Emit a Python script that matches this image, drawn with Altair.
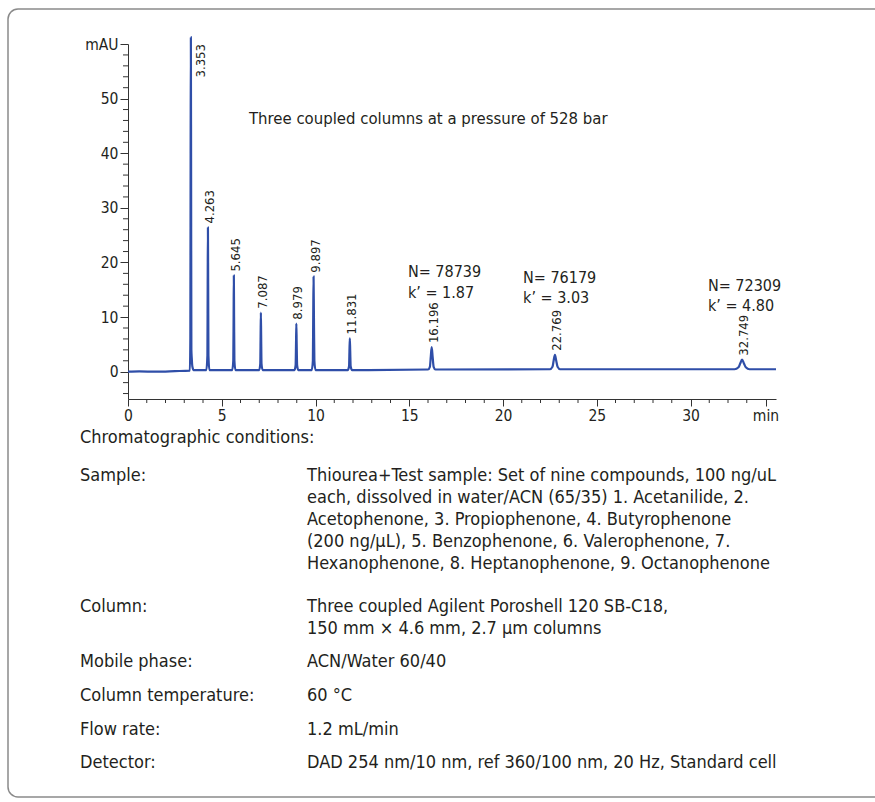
import altair as alt
import pandas as pd

# ---------------- data ----------------
trace_time = [0.0, 0.6, 1.5, 2.5, 3.30, 3.325, 3.34, 3.353, 3.366, 3.38, 3.40, 3.43, 3.50,
              4.18, 4.235, 4.25, 4.263, 4.276, 4.29, 4.34,
              5.56, 5.615, 5.632, 5.645, 5.658, 5.675, 5.73,
              7.00, 7.055, 7.072, 7.087, 7.102, 7.12, 7.18,
              8.88, 8.94, 8.962, 8.979, 8.996, 9.02, 9.08,
              9.80, 9.86, 9.879, 9.897, 9.915, 9.94, 10.0,
              11.72, 11.79, 11.81, 11.831, 11.852, 11.875, 11.95,
              16.0, 16.10, 16.15, 16.196, 16.245, 16.30, 16.40,
              22.5, 22.64, 22.70, 22.769, 22.84, 22.91, 23.05,
              32.35, 32.56, 32.65, 32.749, 32.85, 32.95, 33.15, 34.56]
trace_signal = [0.0, 0.05, 0.0, 0.1, 0.2, 6.0, 40.0, 61.2, 35.0, 4.0, 2.5, 1.0, 0.3,
                0.3, 3.0, 16.0, 26.4, 16.0, 3.0, 0.3,
                0.3, 2.0, 10.0, 17.6, 10.0, 2.0, 0.3,
                0.3, 1.5, 6.5, 10.8, 6.5, 1.5, 0.3,
                0.3, 1.2, 5.2, 8.8, 5.2, 1.2, 0.3,
                0.3, 2.0, 10.5, 17.4, 10.5, 2.0, 0.3,
                0.3, 1.0, 3.7, 6.1, 3.7, 1.0, 0.3,
                0.4, 0.9, 2.8, 4.5, 2.8, 0.9, 0.4,
                0.45, 0.9, 2.0, 3.1, 2.0, 0.9, 0.45,
                0.45, 0.8, 1.5, 2.2, 1.5, 0.8, 0.45, 0.45]

peak_rt = [4.263, 5.645, 7.087, 8.979, 9.897, 11.831, 16.196, 22.769, 32.749]
peak_height = [26.4, 17.6, 10.8, 8.8, 17.4, 6.1, 4.5, 3.1, 2.2]
peak_label = ["4.263", "5.645", "7.087", "8.979", "9.897", "11.831", "16.196", "22.769", "32.749"]

first_peak_rt = [3.353]
first_peak_label = ["3.353"]

plate_lines = ["N= 78739", "k\u2019 = 1.87", "N= 76179", "k\u2019 = 3.03", "N= 72309", "k\u2019 = 4.80"]
plate_time = [14.93, 14.93, 21.07, 21.07, 30.93, 30.93]
plate_level = [18.3, 14.5, 17.2, 13.5, 15.6, 12.1]

headline = ["Three coupled columns at a pressure of 528 bar"]
headline_time = [6.45]
headline_level = [46.2]

x_major = [0, 5, 10, 15, 20, 25, 30, 34]
x_minor = [v for v in range(1, 35) if v % 5 != 0 and v != 34]
y_major = [0, 10, 20, 30, 40, 50, 60]
y_minor = [v for v in range(-4, 60, 2) if v % 10 != 0]

cond_title = "Chromatographic conditions:"
cond_labels = ["Sample:", "Column:", "Mobile phase:", "Column temperature:", "Flow rate:", "Detector:"]
cond_values = [
    ["Thiourea+Test sample: Set of nine compounds, 100 ng/uL",
     "each, dissolved in water/ACN (65/35) 1. Acetanilide, 2.",
     "Acetophenone, 3. Propiophenone, 4. Butyrophenone",
     "(200 ng/\u00b5L), 5. Benzophenone, 6. Valerophenone, 7.",
     "Hexanophenone, 8. Heptanophenone, 9. Octanophenone"],
    ["Three coupled Agilent Poroshell 120 SB-C18,",
     "150 mm \u00d7 4.6 mm, 2.7 \u00b5m columns"],
    ["ACN/Water 60/40"],
    ["60 \u00b0C"],
    ["1.2 mL/min"],
    ["DAD 254 nm/10 nm, ref 360/100 nm, 20 Hz, Standard cell"],
]

# ---------------- layout / style ----------------
W, H = 648, 355
PL, PT = 128, 44
FONT = "DejaVu Sans Condensed, Liberation Sans Narrow, sans-serif"
INK = "#231f20"
LINE = "#2f4ea8"
AX = "#333333"

xs = alt.Scale(domain=[0, 34.56], nice=False, zero=False)
ys = alt.Scale(domain=[-5, 60], nice=False, zero=False)

x_axis = alt.Axis(
    values=x_major, labelExpr="datum.value == 34 ? 'min' : datum.label",
    tickSize=7, title=None, grid=False)
y_axis = alt.Axis(
    values=y_major, labelExpr="datum.value == 60 ? 'mAU' : datum.label",
    tickSize=8, title=None, grid=False)


def X(f):
    return alt.X(f, scale=xs, axis=x_axis)


def Y(f):
    return alt.Y(f, scale=ys, axis=y_axis)


trace_df = pd.DataFrame({"t": trace_time, "s": trace_signal})
peaks_df = pd.DataFrame({"t": peak_rt, "s": peak_height, "lab": peak_label})
first_df = pd.DataFrame({"t": first_peak_rt, "s": [60], "lab": first_peak_label})
plate_df = pd.DataFrame({"t": plate_time, "s": plate_level, "lab": plate_lines})
head_df = pd.DataFrame({"t": headline_time, "s": headline_level, "lab": headline})
one = pd.DataFrame({"a": [0]})

line = alt.Chart(trace_df).mark_line(color=LINE, strokeWidth=2.2, interpolate="monotone").encode(
    x=X("t:Q"), y=Y("s:Q"))

xminor = alt.Chart(pd.DataFrame({"t": x_minor})).mark_rule(color=AX, strokeWidth=1).encode(
    x=X("t:Q"), y=alt.value(H), y2=alt.value(H + 4))
yminor = alt.Chart(pd.DataFrame({"s": y_minor})).mark_rule(color=AX, strokeWidth=1).encode(
    y=Y("s:Q"), x=alt.value(-5), x2=alt.value(0))

peak_labels = alt.Chart(peaks_df).mark_text(
    angle=270, align="left", baseline="middle", dx=4, dy=2, font=FONT, fontSize=13, color=INK
).encode(x=X("t:Q"), y=Y("s:Q"), text="lab:N")

first_label = alt.Chart(first_df).mark_text(
    angle=270, align="right", baseline="middle", dx=0, dy=10, font=FONT, fontSize=13, color=INK
).encode(x=X("t:Q"), y=Y("s:Q"), text="lab:N")

plates = alt.Chart(plate_df).mark_text(
    align="left", baseline="middle", font=FONT, fontSize=16, color=INK
).encode(x=X("t:Q"), y=Y("s:Q"), text="lab:N")

head = alt.Chart(head_df).mark_text(
    align="left", baseline="middle", font=FONT, fontSize=16.6, color=INK
).encode(x=X("t:Q"), y=Y("s:Q"), text="lab:N")

frame = alt.Chart(one).mark_rect(
    fillOpacity=0, stroke="#8a8a8a", strokeWidth=1.5, cornerRadius=10
).encode(x=alt.value(8 - PL), x2=alt.value(890 - PL), y=alt.value(9 - PT), y2=alt.value(797 - PT))

layers = [line, xminor, yminor, peak_labels, first_label, plates, head, frame]


# conditions table (pixel layout below the plot)
def txt(s, x, y):
    return alt.Chart(pd.DataFrame({"lab": [s]})).mark_text(
        align="left", baseline="middle", font=FONT, fontSize=18, color=INK
    ).encode(text="lab:N", x=alt.value(x - PL), y=alt.value(y - PT))


row_y = [476, 607, 662, 696, 730, 763]
line_h = 22
layers.append(txt(cond_title, 80, 438))
for i, lab in enumerate(cond_labels):
    layers.append(txt(lab, 80, row_y[i]))
    for j, v in enumerate(cond_values[i]):
        layers.append(txt(v, 307, row_y[i] + j * line_h))

chart = alt.layer(*layers).properties(
    width=W, height=H,
    autosize=alt.AutoSizeParams(type="none"),
    padding={"left": PL, "top": PT, "right": 875 - PL - W, "bottom": 802 - PT - H},
    background="white",
).configure_view(
    strokeWidth=0
).configure_axis(
    labelFont=FONT, labelFontSize=15.5, labelColor=INK, labelPadding=2,
    tickColor=AX, domainColor=AX, tickWidth=1, domainWidth=1,
    labelFlush=False, labelOverlap=False, grid=False
)

chart.save("out.html", embed_options={"renderer": "svg", "actions": False})
